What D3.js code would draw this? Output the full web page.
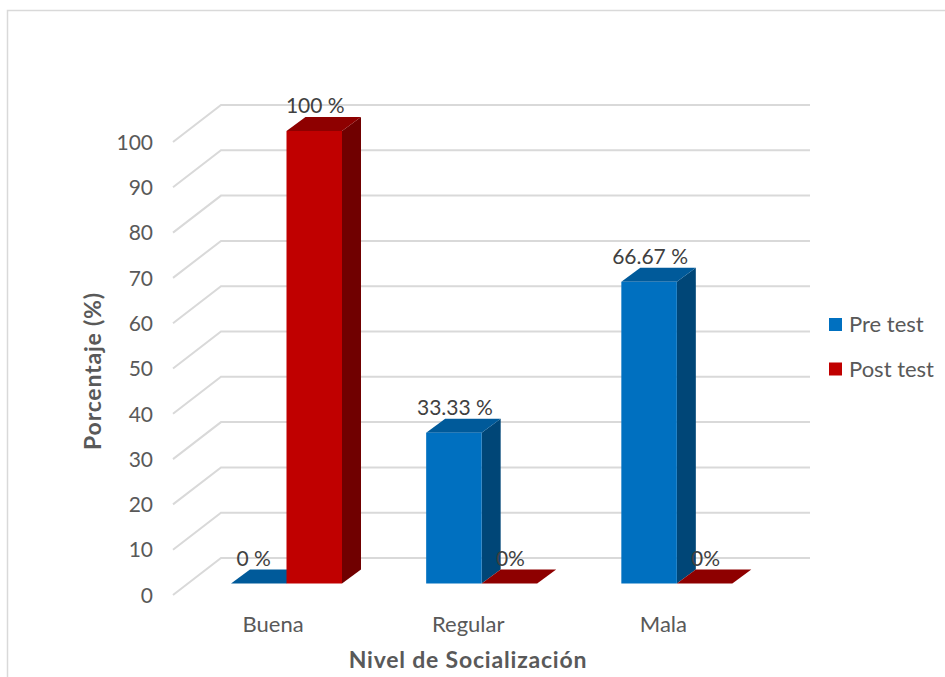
<!DOCTYPE html>
<html>
<head>
<meta charset="utf-8">
<style>
  body { margin: 0; background: #fff; }
  svg { display: block; font-family: Lato, "Open Sans", sans-serif; }
</style>
</head>
<body>
<svg width="945" height="677"></svg>
<script src="https://cdn.jsdelivr.net/npm/d3@7"></script>
<script>
var categories = ["Buena", "Regular", "Mala"];
var seriesNames = ["Pre test", "Post test"];
var preTest = [0, 33.33, 66.67];
var postTest = [100, 0, 0];
var preLabels = ["0 %", "33.33 %", "66.67 %"];
var postLabels = ["100 %", "0%", "0%"];
var yTicks = [0, 10, 20, 30, 40, 50, 60, 70, 80, 90, 100];

var fills = {
  "Pre test": { front: "#0070c0", top: "#005a9a", side: "#004677" },
  "Post test": { front: "#c00000", top: "#8e0000", side: "#700000" }
};

var svg = d3.select("svg");

// outer frame, only top and left show in the picture
svg.append("path")
  .attr("d", "M7.5,677V10.5H945")
  .attr("fill", "none")
  .attr("stroke", "#d9d9d9")
  .attr("stroke-width", 1.5);

// 3d offsets
var dx = 19, dy = -14;
var wallDx = 48, wallDy = -37;

var x0 = d3.scaleBand().domain(categories).range([175.5, 761]);
var x1 = d3.scaleBand().domain(seriesNames).range([55.5, 166.5]);
var y = d3.scaleLinear().domain([0, 100]).range([583.5, 131]);   // bar front
var yFloor = d3.scaleLinear().domain([0, 100]).range([595, 142]); // left edge of wall

// gridlines
var grid = svg.append("g")
  .attr("fill", "none")
  .attr("stroke", "#d9d9d9")
  .attr("stroke-width", 2);

grid.selectAll("path")
  .data(yTicks)
  .join("path")
  .attr("d", function(d) {
    return "M173," + yFloor(d) + "L" + (173 + wallDx) + "," + (yFloor(d) + wallDy) + "H810";
  });

// y axis
var yAxis = d3.axisLeft(yFloor).tickValues(yTicks).tickSize(0).tickPadding(0);
var yG = svg.append("g").attr("transform", "translate(153,0.5)").call(yAxis);
yG.select(".domain").remove();
yG.selectAll("text").attr("font-size", 21).attr("font-family", "Lato").attr("fill", "#595959");

// bars
var rows = [];
categories.forEach(function(c, i) {
  rows.push({ cat: c, name: "Pre test", value: preTest[i], label: preLabels[i] });
  rows.push({ cat: c, name: "Post test", value: postTest[i], label: postLabels[i] });
});

var bars = svg.append("g").selectAll("g")
  .data(rows)
  .join("g");

var w = x1.bandwidth();

function left(d) { return x0(d.cat) + x1(d.name); }

bars.append("path")
  .attr("fill", function(d) { return fills[d.name].side; })
  .attr("d", function(d) {
    var r = left(d) + w;
    return "M" + r + "," + y(d.value) + "l" + dx + "," + dy + "V" + (y(0) + dy) + "l" + (-dx) + "," + (-dy) + "Z";
  });

bars.append("path")
  .attr("fill", function(d) { return fills[d.name].top; })
  .attr("d", function(d) {
    return "M" + left(d) + "," + y(d.value) + "l" + dx + "," + dy + "h" + w + "l" + (-dx) + "," + (-dy) + "Z";
  });

bars.append("rect")
  .attr("fill", function(d) { return fills[d.name].front; })
  .attr("x", left)
  .attr("y", function(d) { return y(d.value); })
  .attr("width", w)
  .attr("height", function(d) { return y(0) - y(d.value); });

// data labels go on top of every bar
svg.append("g").selectAll("text")
  .data(rows)
  .join("text")
  .attr("x", function(d) { return left(d) + w / 2 + (d.label == "0 %" ? -5 : 1); })
  .attr("y", function(d) { return y(d.value) - 18; })
  .attr("text-anchor", "middle")
  .attr("font-size", 21)
  .attr("fill", "#404040")
  .text(function(d) { return d.label; });

// category labels
svg.append("g").selectAll("text")
  .data(categories)
  .join("text")
  .attr("x", function(d) { return x0(d) + x0.bandwidth() / 2; })
  .attr("y", 632)
  .attr("text-anchor", "middle")
  .attr("font-size", 22)
  .attr("fill", "#595959")
  .text(function(d) { return d; });

// axis titles
svg.append("text")
  .attr("x", 468)
  .attr("y", 668)
  .attr("text-anchor", "middle")
  .attr("font-size", 23)
  .attr("letter-spacing", 0.8)
  .attr("font-weight", "bold")
  .attr("fill", "#595959")
  .text("Nivel de Socialización");

svg.append("text")
  .attr("transform", "translate(101,371) rotate(-90)")
  .attr("text-anchor", "middle")
  .attr("font-size", 23)
  .attr("letter-spacing", 0.8)
  .attr("font-weight", "bold")
  .attr("fill", "#595959")
  .text("Porcentaje (%)");

// legend
var legend = svg.append("g").selectAll("g")
  .data(seriesNames)
  .join("g")
  .attr("transform", function(d, i) { return "translate(829," + (318 + i * 44.5) + ")"; });

legend.append("rect")
  .attr("width", 13)
  .attr("height", 13)
  .attr("fill", function(d) { return fills[d].front; });

legend.append("text")
  .attr("x", 20)
  .attr("y", 14)
  .attr("font-size", 22)
  .attr("fill", "#595959")
  .text(function(d) { return d; });
</script>
</body>
</html>
